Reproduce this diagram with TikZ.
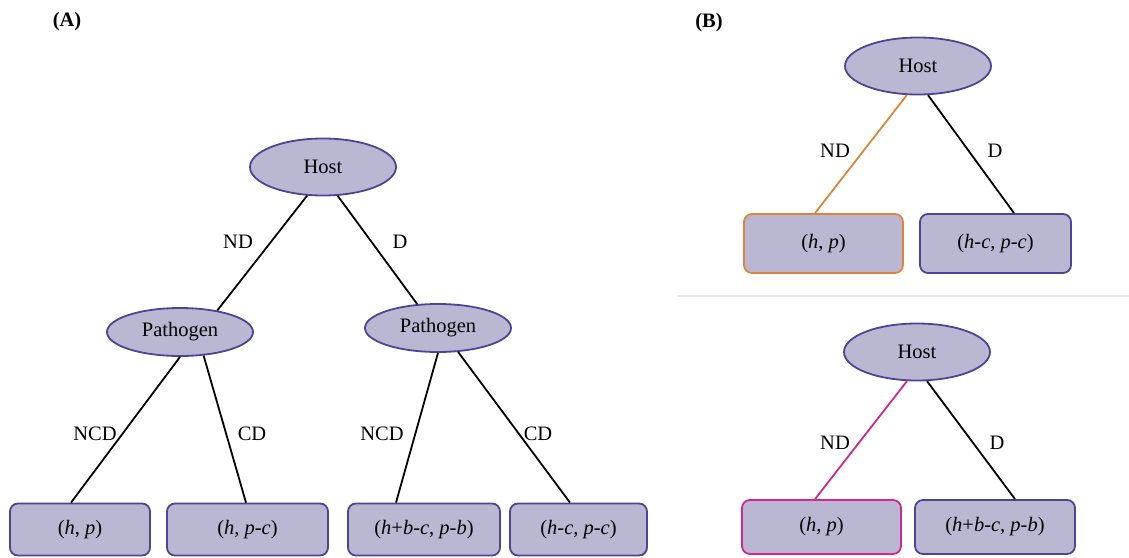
\documentclass[tikz,border=0pt]{standalone}
\usepackage{fontspec}
\setmainfont{Liberation Serif}
\usetikzlibrary{shapes.geometric,calc}
\definecolor{nodefill}{RGB}{186,183,211}
\definecolor{nodeborder}{RGB}{78,68,148}
\definecolor{orangeedge}{RGB}{222,132,58}
\definecolor{magentaedge}{RGB}{208,40,140}
\definecolor{sepgray}{RGB}{232,232,238}
\tikzset{
  ell/.style={ellipse, draw=nodeborder, fill=nodefill, line width=1.8pt, inner sep=0pt, font=\fontsize{20.5}{24}\selectfont},
  hostell/.style={ell, minimum width=146pt, minimum height=57pt},
  pathell/.style={ell, minimum width=146pt, minimum height=48pt},
  payoff/.style={rectangle, rounded corners=8pt, draw=nodeborder, fill=nodefill, line width=1.8pt, inner sep=0pt, font=\fontsize{20.5}{24}\selectfont},
  edge/.style={line width=1.8pt, black},
  elabel/.style={font=\fontsize{20.5}{24}\selectfont, inner sep=0pt},
  panel/.style={font=\fontsize{20.5}{24}\selectfont\bfseries, inner sep=0pt}
}
\begin{document}
\begin{tikzpicture}[x=1pt,y=-1pt]
\useasboundingbox (0,0) rectangle (1129,557);
% panel labels
\node[panel] (labA) at (67,22) {(A)};
\node[panel] (labB) at (709,23) {(B)};
% separator
\coordinate (sepL) at (677,296);
\coordinate (sepR) at (1129,296);
\draw[sepgray, line width=1.5pt] (sepL) -- (sepR);

% Panel A
\node[hostell] (hostA) at (323,167) {Host};
\node[pathell] (patL) at (180,332) {Pathogen};
\node[pathell] (patR) at (438,328) {Pathogen};
\node[payoff, minimum width=140pt, minimum height=52pt] (a1) at (80,529.5) {(\textit{h}, \textit{p})};
\node[payoff, minimum width=161pt, minimum height=52pt] (a2) at (247.5,529.5) {(\textit{h}, \textit{p}-\textit{c})};
\node[payoff, minimum width=152pt, minimum height=52pt] (a3) at (424,529.5) {(\textit{h}+\textit{b}-\textit{c}, \textit{p}-\textit{b})};
\node[payoff, minimum width=137pt, minimum height=52pt] (a4) at (578.5,529.5) {(\textit{h}-\textit{c}, \textit{p}-\textit{c})};

\draw[edge] (hostA.241) -- (patL.30);
\draw[edge] (hostA.297) -- (patR.131);
\draw[edge] (patL.270) -- ($(a1.north)+(-9,0)$);
\draw[edge] (patL.315) -- ($(a2.north)+(-1.5,0)$);
\draw[edge] (patR.270) -- ($(a3.north)+(-28,0)$);
\draw[edge] (patR.310) -- ($(a4.north)+(-8.5,0)$);

\node[elabel] (lND) at (238,242) {ND};
\node[elabel] (lD) at (400,242) {D};
\node[elabel] (lNCD1) at (95,434) {NCD};
\node[elabel] (lCD1) at (252,434) {CD};
\node[elabel] (lNCD2) at (382,434) {NCD};
\node[elabel] (lCD2) at (538,434) {CD};

% Panel B top
\node[hostell] (hostB1) at (918,66) {Host};
\node[payoff, draw=orangeedge, minimum width=159pt, minimum height=59pt] (b1) at (823.5,243.5) {(\textit{h}, \textit{p})};
\node[payoff, minimum width=151pt, minimum height=59pt] (b2) at (995.5,243.5) {(\textit{h}-\textit{c}, \textit{p}-\textit{c})};
\draw[line width=1.8pt, orangeedge] (hostB1.249) -- ($(b1.north)+(-8.5,0)$);
\draw[edge] (hostB1.289) -- ($(b2.north)+(18.5,0)$);
\node[elabel] (lNDb1) at (835,151) {ND};
\node[elabel] (lDb1) at (995,151) {D};

% Panel B bottom
\node[hostell] (hostB2) at (917,352) {Host};
\node[payoff, draw=magentaedge, minimum width=159pt, minimum height=54pt] (c1) at (821.5,527) {(\textit{h}, \textit{p})};
\node[payoff, minimum width=160pt, minimum height=54pt] (c2) at (995,527) {(\textit{h}+\textit{b}-\textit{c}, \textit{p}-\textit{b})};
\draw[line width=1.8pt, magentaedge] (hostB2.251) -- ($(c1.north)+(-6.5,0)$);
\draw[edge] (hostB2.289) -- ($(c2.north)+(20,0)$);
\node[elabel] (lNDb2) at (835,443) {ND};
\node[elabel] (lDb2) at (997,443) {D};
\end{tikzpicture}
\end{document}
